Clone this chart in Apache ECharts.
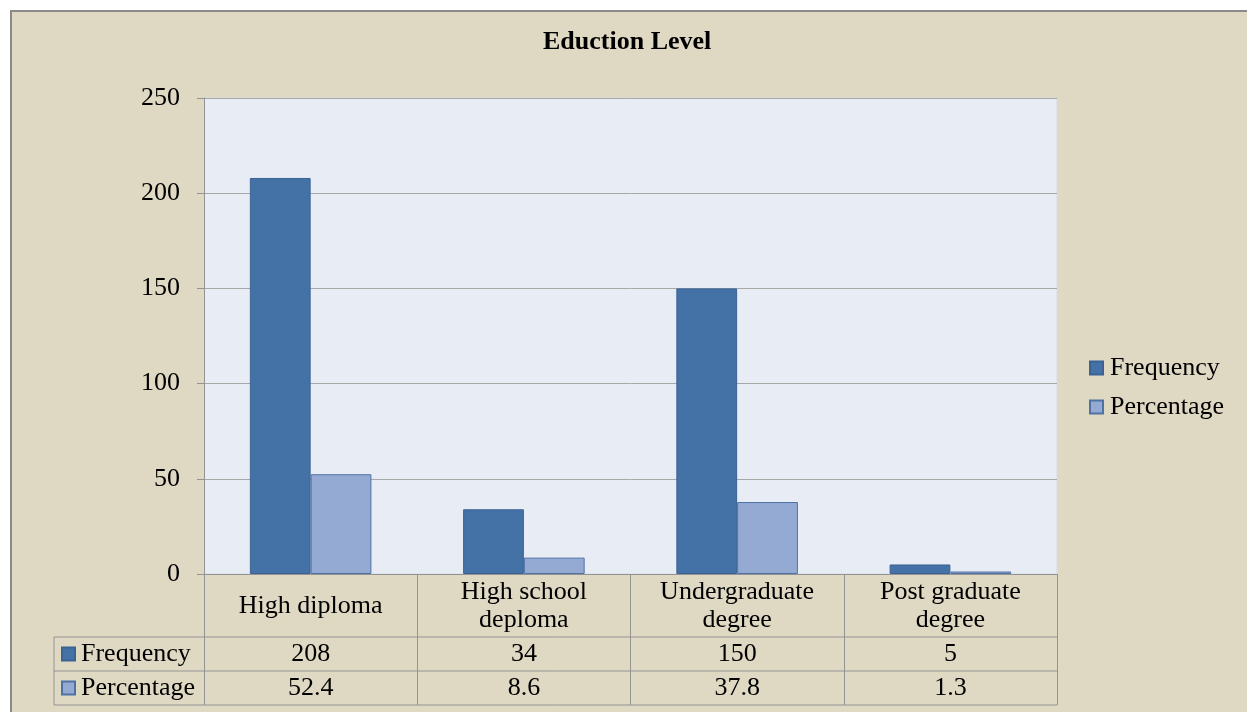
<!DOCTYPE html>
<html>
<head>
<meta charset="utf-8">
<script src="https://cdn.jsdelivr.net/npm/echarts@6/dist/echarts.min.js"></script>
<style>
  html, body { margin: 0; padding: 0; background: #ffffff; }
  #chart { width: 1247px; height: 712px; }
</style>
</head>
<body>
<div id="chart"></div>
<script>
// Education level counts and shares
const categories = ['High diploma', 'High school\ndeploma', 'Undergraduate\ndegree', 'Post graduate\ndegree'];
const frequency = [208, 34, 150, 5];
const percentage = [52.4, 8.6, 37.8, 1.3];
const seriesNames = ['Frequency', 'Percentage'];
const yTicks = { min: 0, max: 250, interval: 50 };

const FONT = '"Liberation Serif", "Times New Roman", serif';
const LINE = '#949494';
const chart = echarts.init(document.getElementById('chart'), null, { renderer: 'canvas' });

const textBase = { fontFamily: FONT, color: '#000', fontSize: 26 };

// one extra bottom axis per table row, holding that row's values
function rowAxis(values, offset) {
  return {
    type: 'category',
    data: categories,
    position: 'bottom',
    offset: offset,
    axisLine: { show: false },
    axisTick: { show: false },
    axisLabel: Object.assign({}, textBase, {
      interval: 0,
      margin: 17,
      verticalAlign: 'middle',
      formatter: (v, i) => String(values[i])
    })
  };
}

// table rulings below the plot
const tableLines = [
  { x1: 54, y1: 637, x2: 1057, y2: 637 },
  { x1: 54, y1: 671, x2: 1057, y2: 671 },
  { x1: 54, y1: 705, x2: 1057, y2: 705 },
  { x1: 54, y1: 637, x2: 54, y2: 705 }
].map(s => ({ type: 'line', shape: s, style: { stroke: LINE, lineWidth: 1 }, z: 10 }));

const option = {
  backgroundColor: '#ffffff',
  animation: false,
  title: {
    text: 'Eduction Level',
    left: 543,
    top: 29,
    padding: 0,
    textStyle: { fontFamily: FONT, fontSize: 26, fontWeight: 'bold', color: '#000' }
  },
  graphic: [
    {
      type: 'rect',
      shape: { x: 11, y: 11, width: 1250, height: 720 },
      style: { fill: '#DFD8C3', stroke: '#8A8A8A', lineWidth: 2 },
      z: -10,
      silent: true
    }
  ].concat(tableLines),
  legend: [
    {
      data: seriesNames,
      orient: 'vertical',
      left: 1089,
      top: 355,
      padding: 0,
      itemWidth: 13,
      itemHeight: 13,
      itemGap: 13,
      icon: 'rect',
      textStyle: Object.assign({}, textBase, { lineHeight: 26, padding: [0, 0, 0, 2] })
    },
    {
      data: seriesNames,
      orient: 'vertical',
      left: 61,
      top: 641,
      padding: 0,
      itemWidth: 13,
      itemHeight: 13,
      itemGap: 8,
      icon: 'rect',
      selectedMode: false,
      textStyle: Object.assign({}, textBase, { lineHeight: 26, padding: [0, 0, 0, 1] })
    }
  ],
  grid: {
    left: 204,
    right: 190,
    top: 98,
    bottom: 138,
    show: true,
    backgroundColor: '#E8ECF5',
    borderWidth: 1,
    borderColor: '#D6DAE2'
  },
  xAxis: [
    {
      type: 'category',
      data: categories,
      position: 'bottom',
      axisLine: { show: true, lineStyle: { color: LINE, width: 1 } },
      axisTick: { show: true, interval: 0, length: 131, lineStyle: { color: LINE } },
      axisLabel: Object.assign({}, textBase, {
        interval: 0,
        margin: 32,
        lineHeight: 28,
        verticalAlign: 'middle'
      })
    },
    rowAxis(frequency, 63),
    rowAxis(percentage, 97)
  ],
  yAxis: {
    type: 'value',
    min: yTicks.min,
    max: yTicks.max,
    interval: yTicks.interval,
    axisLine: { show: true, lineStyle: { color: LINE, width: 1 } },
    axisTick: { show: true, length: 7, lineStyle: { color: LINE } },
    axisLabel: Object.assign({}, textBase, { margin: 24 }),
    splitLine: { show: true, lineStyle: { color: '#A8A8A8', width: 1 } }
  },
  series: [
    {
      name: seriesNames[0],
      type: 'bar',
      data: frequency,
      barGap: '0%',
      barCategoryGap: '43%',
      itemStyle: { color: '#4472A7', borderColor: '#3A6393', borderWidth: 1 }
    },
    {
      name: seriesNames[1],
      type: 'bar',
      data: percentage,
      barGap: '0%',
      barCategoryGap: '43%',
      itemStyle: { color: '#95AAD2', borderColor: '#4E72A4', borderWidth: 1 }
    }
  ]
};

chart.setOption(option);
</script>
</body>
</html>
